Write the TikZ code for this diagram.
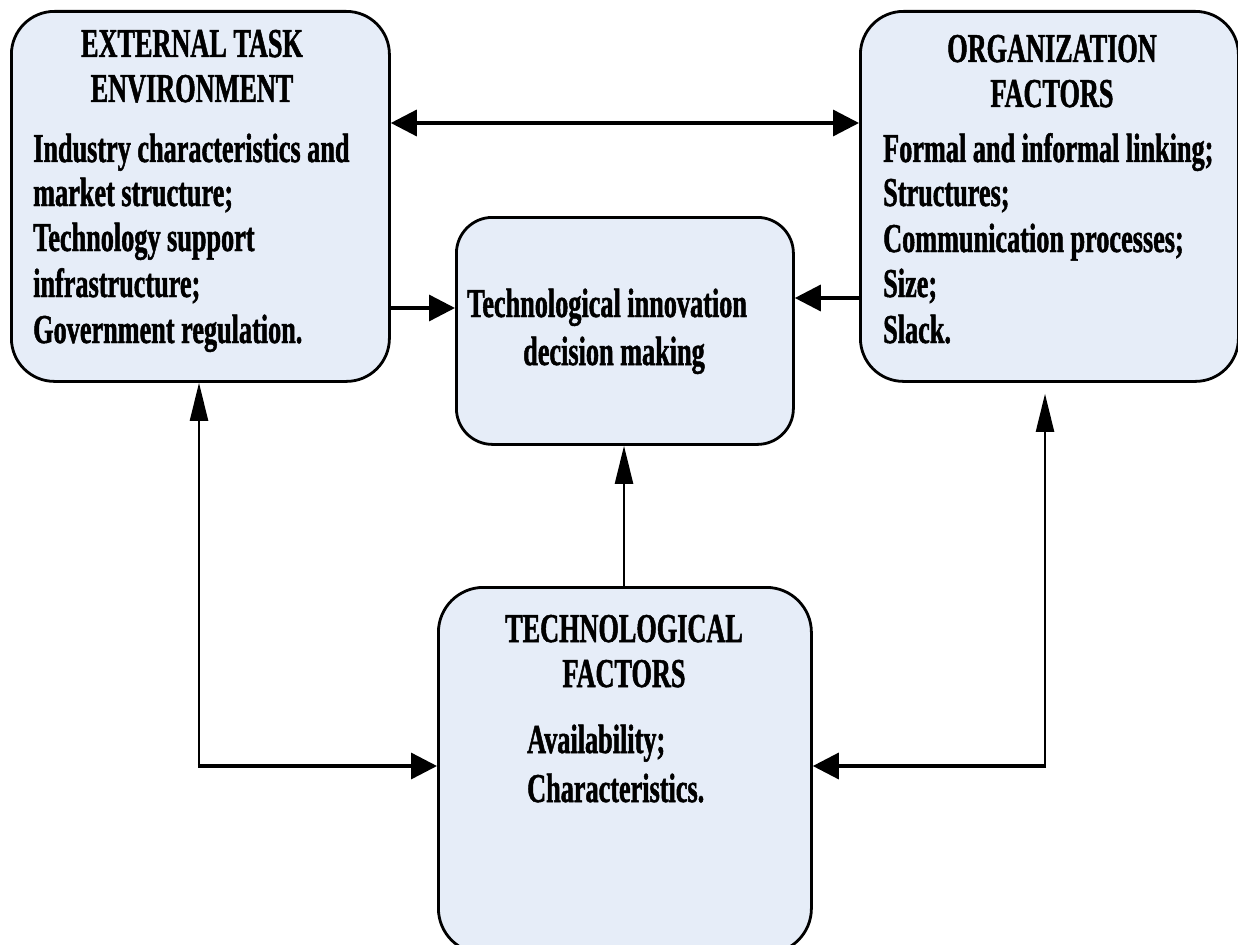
\documentclass[tikz,border=0pt]{standalone}
\usepackage{fontspec}
\newfontfamily\tnr{Liberation Serif}[FakeStretch=0.64,FakeBold=1.2]
\usetikzlibrary{arrows.meta}
\definecolor{boxblue}{RGB}{230,237,248}
\begin{document}
\begin{tikzpicture}[x=1pt,y=-1pt,
  box/.style={draw=black, line width=2.8pt, fill=boxblue, anchor=north west, inner sep=0pt},
  txt/.style={inner sep=0pt, font=\tnr\bfseries\fontsize{41}{45}\selectfont},
  harrow/.style={line width=3.4pt, -{Triangle[length=26pt,width=26pt]}},
  harrows/.style={line width=3.4pt, {Triangle[length=26pt,width=26pt]}-{Triangle[length=26pt,width=26pt]}},
  varrow/.style={line width=2.3pt, -{Triangle[length=38pt,width=18pt]}},
  hline/.style={line width=3.4pt}]
\useasboundingbox (0,0) rectangle (1238,944);
% boxes
\node[box, rounded corners=43pt, minimum width=378pt, minimum height=370pt] (ext) at (10,10) {};
\node[box, rounded corners=43pt, minimum width=378pt, minimum height=370pt] (org) at (859,10) {};
\node[box, rounded corners=36pt, minimum width=337pt, minimum height=227pt] (dec) at (455,216) {};
\node[box, rounded corners=45pt, minimum width=373pt, minimum height=366pt] (tech) at (437,586) {};
% texts: external
\node[txt, anchor=base] (e1) at (192,57) {EXTERNAL TASK};
\node[txt, anchor=base] (e2) at (192,102) {ENVIRONMENT};
\node[txt, anchor=base west] (e3) at (33,162) {Industry characteristics and};
\node[txt, anchor=base west] (e4) at (33,206) {market structure;};
\node[txt, anchor=base west] (e5) at (33,251) {Technology support};
\node[txt, anchor=base west] (e6) at (33,297) {infrastructure;};
\node[txt, anchor=base west] (e7) at (33,343) {Government regulation.};
% texts: organization
\node[txt, anchor=base] (o1) at (1052,62) {ORGANIZATION};
\node[txt, anchor=base] (o2) at (1052,107) {FACTORS};
\node[txt, anchor=base west] (o3) at (883,162) {Formal and informal linking;};
\node[txt, anchor=base west] (o4) at (883,206) {Structures;};
\node[txt, anchor=base west] (o5) at (883,252) {Communication processes;};
\node[txt, anchor=base west] (o6) at (883,297) {Size;};
\node[txt, anchor=base west] (o7) at (883,343) {Slack.};
% texts: decision
\node[txt, anchor=base west] (d1) at (467,317) {Technological innovation};
\node[txt, anchor=base] (d2) at (614,365) {decision making};
% texts: technological
\node[txt, anchor=base] (t1) at (624,642) {TECHNOLOGICAL};
\node[txt, anchor=base] (t2) at (624,687) {FACTORS};
\node[txt, anchor=base west] (t3) at (527,753) {Availability;};
\node[txt, anchor=base west] (t4) at (527,802) {Characteristics.};
% connectors
\coordinate (ytop) at (0,123);
\coordinate (yl) at (0,308);
\coordinate (yr) at (0,298);
\coordinate (lc) at (199,766);
\coordinate (rc) at (1045,766);
\draw[harrows] (ext.east |- ytop) -- (org.west |- ytop);
\draw[harrow] (ext.east |- yl) -- (dec.west |- yl);
\draw[harrow] (org.west |- yr) -- (dec.east |- yr);
\draw[varrow] (tech.north -| 624,0) -- (dec.south -| 624,0);
\draw[varrow, shorten <=-1pt] (lc) -- (ext.south -| lc);
\draw[harrow, shorten <=-1.2pt] (lc) -- (tech.west |- lc);
\draw[varrow, shorten >=11pt, shorten <=-1pt] (rc) -- (org.south -| rc);
\draw[harrow, shorten <=-1.2pt] (rc) -- (tech.east |- rc);
\end{tikzpicture}
\end{document}
